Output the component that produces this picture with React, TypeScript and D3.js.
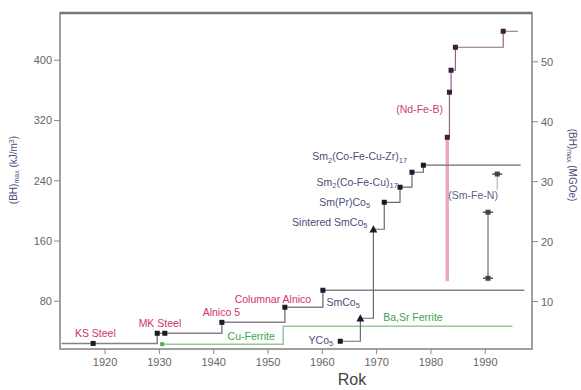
import * as d3 from "d3";

// (BH)max records (year, kJ/m3)
const xTicks = [1920, 1930, 1940, 1950, 1960, 1970, 1980, 1990];
const leftTicks = [80, 160, 240, 320, 400];
const rightTicks = [10, 20, 30, 40, 50];

// steels and alnicos
const metalYears = [1917.8, 1929.6, 1931.0, 1941.5, 1953.1, 1960.1];
const metalValues = [24, 37.5, 37.5, 52, 72, 94.6];
const metalSpan = [1912, 1997.2];

// ferrites
const ferriteYears = [1930.5, 1952.8];
const ferriteValues = [23, 46.8];
const ferriteSpan = [1930.5, 1995];

// rare earth - cobalt
const reYears = [1963.3, 1967.0, 1969.4, 1971.4, 1974.3, 1976.5, 1978.6];
const reValues = [26.9, 57.4, 175.6, 211.4, 231.4, 251.3, 260.6];
const reShapes = ["square", "triangle", "triangle", "square", "square", "square", "square"];
const reSpan = [1963.3, 1996.5];

// Nd-Fe-B
const ndYears = [1983.0, 1983.4, 1983.7, 1984.5, 1993.3];
const ndValues = [297.7, 357.5, 386.7, 417.2, 438.5];
const ndSpan = [1983.0, 1996];
const ndBarBottom = 106.6;

// Sm-Fe-N
const smfnYear = 1990.5;
const smfnRange = [110.5, 198.2];
const smfnTop = { year: 1992.2, value: 248.9 };

// labels: [main, sub, main, sub ...], anchor point in data coordinates
const labels = [
  { parts: ["KS Steel"], year: 1918.2, value: 33, anchor: "middle", color: "#d0336b" },
  { parts: ["MK Steel"], year: 1930.1, value: 46.4, anchor: "middle", color: "#d0336b" },
  { parts: ["Alnico 5"], year: 1941.4, value: 61, anchor: "middle", color: "#d0336b" },
  { parts: ["Columnar Alnico"], year: 1950.9, value: 77.5, anchor: "middle", color: "#d0336b" },
  { parts: ["SmCo", "5"], year: 1966.9, value: 74.3, anchor: "end", color: "#4a4f7a" },
  { parts: ["YCo", "5"], year: 1962.0, value: 23.8, anchor: "end", color: "#4a4f7a" },
  { parts: ["Cu-Ferrite"], year: 1946.9, value: 29.2, anchor: "middle", color: "#3aa64a" },
  { parts: ["Ba,Sr Ferrite"], year: 1971.2, value: 54.4, anchor: "start", color: "#3aa64a" },
  { parts: ["Sintered SmCo", "5"], year: 1968.3, value: 180, anchor: "end", color: "#4a4f7a" },
  { parts: ["Sm(Pr)Co", "5"], year: 1968.8, value: 207, anchor: "end", color: "#4a4f7a" },
  { parts: ["Sm", "2", "(Co-Fe-Cu)", "17"], year: 1973.9, value: 233.6, anchor: "end", color: "#4a4f7a" },
  { parts: ["Sm", "2", "(Co-Fe-Cu-Zr)", "17"], year: 1975.6, value: 267.1, anchor: "end", color: "#4a4f7a" },
  { parts: ["(Nd-Fe-B)"], year: 1982.2, value: 330.5, anchor: "end", color: "#c8407a" },
  { parts: ["(Sm-Fe-N)"], year: 1983.2, value: 216.4, anchor: "start", color: "#5a5f8a" },
];

const WIDTH = 581;
const HEIGHT = 390;
const PLOT = { left: 60, right: 532, top: 13, bottom: 349 };
const FONT = "'Liberation Sans', Arial, sans-serif";
const MGOE = 7.958;

const x = d3.scaleLinear().domain([1911.7, 1998.6]).range([PLOT.left, PLOT.right]);
const y = d3.scaleLinear().domain([16.6, 462.7]).range([PLOT.bottom, PLOT.top]);
const yR = d3
  .scaleLinear()
  .domain(y.domain().map((v) => v / MGOE))
  .range([PLOT.bottom, PLOT.top]);

const stepLine = d3
  .line<[number, number]>()
  .x((d) => x(d[0]))
  .y((d) => y(d[1]))
  .curve(d3.curveStepAfter);

function series(years: number[], values: number[], span: number[]) {
  const pts: [number, number][] = years.map((yr, i) => [yr, values[i]]);
  if (span[0] < years[0]) pts.unshift([span[0], values[0]]);
  pts.push([span[1], values[values.length - 1]]);
  return stepLine(pts) ?? "";
}

function Marker({ cx, cy, shape, fill, size = 5 }: { cx: number; cy: number; shape: string; fill: string; size?: number }) {
  if (shape === "triangle") {
    const s = size + 1.5;
    return <path d={`M${cx},${cy - s * 0.6}L${cx + s * 0.6},${cy + s * 0.5}L${cx - s * 0.6},${cy + s * 0.5}Z`} fill={fill} />;
  }
  return <rect x={cx - size / 2} y={cy - size / 2} width={size} height={size} fill={fill} />;
}

function Label({ l }: { l: (typeof labels)[number] }) {
  return (
    <text x={x(l.year)} y={y(l.value)} textAnchor={l.anchor as any} fill={l.color} fontSize={10.5} fontFamily={FONT}>
      {l.parts.map((p, i) =>
        i % 2 === 1 ? (
          <tspan key={i} fontSize={7.5} dy={2.5}>
            {p}
          </tspan>
        ) : (
          <tspan key={i} dy={i > 0 ? -2.5 : 0}>
            {p}
          </tspan>
        )
      )}
    </text>
  );
}

export default function App() {
  const ink = "#1c1a28";
  return (
    <svg width={WIDTH} height={HEIGHT} style={{ position: "absolute", left: 0, top: 0, background: "#fff" }}>
      {/* frame */}
      <rect x={PLOT.left} y={PLOT.top} width={PLOT.right - PLOT.left} height={PLOT.bottom - PLOT.top} fill="none" stroke="#a0a0a0" strokeWidth={2} />
      <line x1={PLOT.left} x2={PLOT.right} y1={PLOT.top} y2={PLOT.top} stroke="#777" strokeWidth={2.5} />

      {/* x axis */}
      {xTicks.map((t) => (
        <g key={t}>
          <line x1={x(t)} x2={x(t)} y1={PLOT.bottom} y2={PLOT.bottom + 5} stroke="#888" />
          <text x={x(t)} y={PLOT.bottom + 17} textAnchor="middle" fontSize={11} fill="#666" fontFamily={FONT}>
            {t}
          </text>
        </g>
      ))}
      <text x={352} y={385} textAnchor="middle" fontSize={16} fill="#444" fontFamily={FONT}>
        Rok
      </text>

      {/* left axis */}
      {leftTicks.map((t) => (
        <g key={t}>
          <line x1={PLOT.left - 6} x2={PLOT.left} y1={y(t)} y2={y(t)} stroke="#888" />
          <text x={PLOT.left - 8} y={y(t) + 4} textAnchor="end" fontSize={11} fill="#666" fontFamily={FONT}>
            {t}
          </text>
        </g>
      ))}
      <text transform="translate(17,170) rotate(-90)" textAnchor="middle" fontSize={10} fill="#4a4f7a" fontFamily={FONT}>
        (BH)<tspan fontSize={7} dy={2}>max</tspan>
        <tspan dy={-2}> (kJ/m</tspan>
        <tspan fontSize={7} dy={-3}>3</tspan>
        <tspan dy={3}>)</tspan>
      </text>

      {/* right axis */}
      {rightTicks.map((t) => (
        <g key={t}>
          <line x1={PLOT.right} x2={PLOT.right + 6} y1={yR(t)} y2={yR(t)} stroke="#888" />
          <text x={PLOT.right + 9} y={yR(t) + 4} textAnchor="start" fontSize={11} fill="#666" fontFamily={FONT}>
            {t}
          </text>
        </g>
      ))}
      <text transform="translate(569,165) rotate(90)" textAnchor="middle" fontSize={10} fill="#4a4f7a" fontFamily={FONT}>
        (BH)<tspan fontSize={7} dy={2}>max</tspan>
        <tspan dy={-2}> (MGOe)</tspan>
      </text>

      {/* Nd-Fe-B spread */}
      <line x1={x(ndYears[0])} x2={x(ndYears[0])} y1={y(ndValues[0])} y2={y(ndBarBottom)} stroke="#e8a8c4" strokeWidth={3.5} />

      {/* step lines */}
      <path d={series(ferriteYears, ferriteValues, ferriteSpan)} fill="none" stroke="#98c898" strokeWidth={1.5} />
      <path d={series(metalYears, metalValues, metalSpan)} fill="none" stroke="#8a7e8c" strokeWidth={1.5} />
      <path d={series(reYears, reValues, reSpan)} fill="none" stroke="#6a6a70" strokeWidth={1.2} />
      <path d={series(ndYears, ndValues, ndSpan)} fill="none" stroke="#8a6a80" strokeWidth={1.2} />

      {/* Sm-Fe-N range */}
      <line x1={x(smfnYear)} x2={x(smfnYear)} y1={y(smfnRange[0])} y2={y(smfnRange[1])} stroke="#8a8a90" strokeWidth={1.5} />
      {smfnRange.map((v, i) => (
        <g key={i}>
          <line x1={x(smfnYear) - 5} x2={x(smfnYear) + 5} y1={y(v)} y2={y(v)} stroke="#555" strokeWidth={1.5} />
          <Marker cx={x(smfnYear)} cy={y(v)} shape="square" fill="#444" />
        </g>
      ))}
      <line x1={x(smfnTop.year)} x2={x(smfnTop.year)} y1={y(smfnTop.value)} y2={y(smfnTop.value) + 16} stroke="#aaa" strokeWidth={1} />
      <line x1={x(smfnTop.year) - 5} x2={x(smfnTop.year) + 5} y1={y(smfnTop.value)} y2={y(smfnTop.value)} stroke="#555" strokeWidth={1.5} />
      <Marker cx={x(smfnTop.year)} cy={y(smfnTop.value)} shape="square" fill="#444" />

      {/* markers */}
      {metalYears.map((yr, i) => (
        <Marker key={`m${i}`} cx={x(yr)} cy={y(metalValues[i])} shape="square" fill={ink} />
      ))}
      <Marker cx={x(ferriteYears[0])} cy={y(ferriteValues[0])} shape="square" fill="#5aaa5a" size={4} />
      {reYears.map((yr, i) => (
        <Marker key={`r${i}`} cx={x(yr)} cy={y(reValues[i])} shape={reShapes[i]} fill={ink} />
      ))}
      {ndYears.map((yr, i) => (
        <Marker key={`n${i}`} cx={x(yr)} cy={y(ndValues[i])} shape="square" fill="#3a1f3a" />
      ))}

      {/* labels */}
      {labels.map((l, i) => (
        <Label key={i} l={l} />
      ))}
    </svg>
  );
}
